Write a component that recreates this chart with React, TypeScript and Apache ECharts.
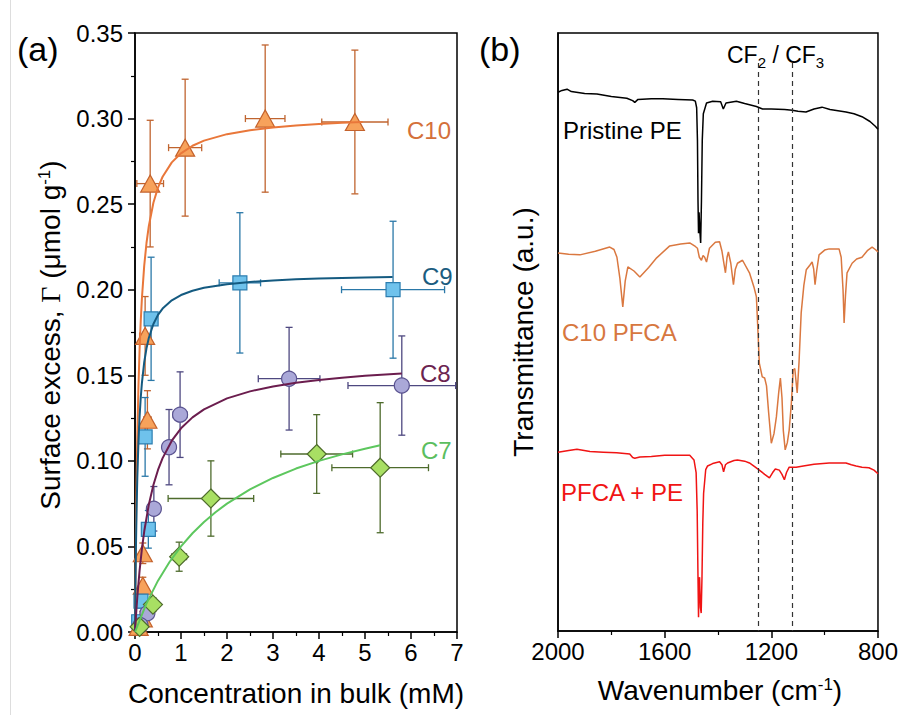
import React, { useEffect, useRef } from 'react';
import * as echarts from 'echarts';

// ---------- Panel (a): adsorption isotherms ----------
const c10Conc = [4.78, 2.83, 1.09, 0.33, 0.22, 0.27, 0.17, 0.17, 0.17, 0.08];
const c10Gamma = [0.298, 0.300, 0.283, 0.262, 0.173, 0.124, 0.046, 0.027, 0.008, 0.003];
const c10ConcErr = [0.72, 0.43, 0.36, 0.29, 0.12, 0.08, 0.05, 0.04, 0.03, 0.02];
const c10GammaErr = [0.042, 0.043, 0.040, 0.037, 0.023, 0.017, 0.006, 0.005, 0.004, 0.003];

const c9Conc = [5.61, 2.28, 0.35, 0.22, 0.29, 0.13, 0.08];
const c9Gamma = [0.200, 0.204, 0.183, 0.114, 0.060, 0.018, 0.006];
const c9ConcErr = [1.12, 0.45, 0.07, 0.06, 0.07, 0.04, 0.03];
const c9GammaErr = [0.040, 0.041, 0.036, 0.023, 0.011, 0.004, 0.003];

const c8Conc = [5.80, 3.35, 0.98, 0.74, 0.41, 0.27, 0.12];
const c8Gamma = [0.144, 0.148, 0.127, 0.108, 0.072, 0.011, 0.004];
const c8ConcErr = [1.17, 0.67, 0.15, 0.10, 0.08, 0.04, 0.03];
const c8GammaErr = [0.029, 0.030, 0.025, 0.022, 0.013, 0.003, 0.002];

const c7Conc = [5.33, 3.95, 1.65, 0.96, 0.39, 0.10];
const c7Gamma = [0.096, 0.104, 0.078, 0.044, 0.016, 0.003];
const c7ConcErr = [1.05, 0.78, 0.93, 0.16, 0.10, 0.04];
const c7GammaErr = [0.038, 0.023, 0.022, 0.0085, 0.004, 0.002];

// fitted isotherm curves
const c10FitConc = [0, 0.01, 0.02, 0.035, 0.05, 0.075, 0.1, 0.125, 0.15, 0.2, 0.25, 0.3, 0.4, 0.5, 0.6, 0.8, 1.0, 1.25, 1.5, 2.0, 2.5, 3.0, 3.5, 4.0, 4.5, 4.95];
const c10FitGamma = [0, 0.0325, 0.0586, 0.0896, 0.1136, 0.1435, 0.1653, 0.1818, 0.1948, 0.2139, 0.2273, 0.2371, 0.2508, 0.2597, 0.2660, 0.2744, 0.2797, 0.2841, 0.2871, 0.2909, 0.2932, 0.2948, 0.2960, 0.2968, 0.2975, 0.2980];
const c9FitConc = [0, 0.01, 0.02, 0.035, 0.05, 0.075, 0.1, 0.125, 0.15, 0.2, 0.25, 0.3, 0.4, 0.5, 0.6, 0.8, 1.0, 1.25, 1.5, 2.0, 2.5, 3.0, 3.5, 4.0, 4.5, 5.0, 5.6];
const c9FitGamma = [0, 0.0274, 0.0485, 0.0723, 0.0900, 0.1112, 0.1260, 0.1370, 0.1454, 0.1575, 0.1658, 0.1718, 0.1800, 0.1853, 0.1890, 0.1938, 0.1969, 0.1994, 0.2011, 0.2032, 0.2045, 0.2054, 0.2061, 0.2066, 0.2069, 0.2072, 0.2075];
const c8FitConc = [0, 0.025, 0.05, 0.1, 0.15, 0.2, 0.3, 0.4, 0.5, 0.6, 0.8, 1.0, 1.25, 1.5, 2.0, 2.5, 3.0, 3.5, 4.0, 4.5, 5.0, 5.8];
const c8FitGamma = [0, 0.0108, 0.0203, 0.0360, 0.0485, 0.0587, 0.0744, 0.0859, 0.0947, 0.1016, 0.1118, 0.1190, 0.1254, 0.1301, 0.1365, 0.1406, 0.1435, 0.1457, 0.1473, 0.1486, 0.1497, 0.1510];
const c7FitConc = [0, 0.25, 0.5, 0.75, 1.0, 1.25, 1.5, 1.75, 2.0, 2.5, 3.0, 3.5, 4.0, 4.5, 5.0, 5.33];
const c7FitGamma = [0, 0.0167, 0.0300, 0.0409, 0.0500, 0.0577, 0.0643, 0.0700, 0.0750, 0.0833, 0.0900, 0.0955, 0.1000, 0.1038, 0.1071, 0.1091];

const concTicks = [0, 1, 2, 3, 4, 5, 6, 7];
const gammaTicks = [0, 0.05, 0.1, 0.15, 0.2, 0.25, 0.3, 0.35];

// ---------- Panel (b): FTIR spectra (wavenumber, transmittance a.u.) ----------
const peWave = [2000, 1985, 1966, 1950, 1900, 1854, 1800, 1742, 1720, 1712, 1700, 1650, 1607, 1550, 1495, 1485, 1480, 1477, 1475, 1473, 1471, 1468, 1465, 1462, 1459, 1455, 1443, 1420, 1390, 1380, 1370, 1331, 1300, 1256, 1233, 1200, 1150, 1122, 1100, 1070, 1040, 1010, 980, 950, 920, 890, 860, 830, 810, 800];
const peTrans = [90.1, 90.4, 90.6, 90.2, 89.9, 89.8, 89.4, 89.1, 88.7, 88.4, 88.9, 89.0, 89.0, 88.9, 88.8, 88.6, 87.5, 82, 72, 66.5, 70, 67, 64.9, 72, 82, 86.5, 88.3, 88.6, 88.5, 87.3, 88.3, 88.6, 88.2, 87.7, 87.3, 87.3, 87.2, 87.1, 86.9, 86.8, 87.3, 87.6, 87.2, 87.0, 86.8, 86.5, 86.0, 85.2, 84.4, 83.9];

const pfcaWave = [2000, 1960, 1918, 1860, 1806, 1790, 1779, 1768, 1757, 1748, 1738, 1715, 1693, 1660, 1630, 1581, 1540, 1506, 1485, 1477, 1470, 1462, 1456, 1450, 1443, 1432, 1410, 1394, 1385, 1378, 1372, 1366, 1361, 1352, 1342, 1335, 1327, 1308, 1282, 1265, 1256, 1250, 1245, 1234, 1225, 1218, 1210, 1200, 1190, 1181, 1172, 1166, 1160, 1155, 1148, 1140, 1133, 1125, 1118, 1112, 1103, 1096, 1088, 1078, 1069, 1055, 1047, 1041, 1036, 1030, 1021, 1000, 983, 946, 938, 931, 927, 922, 916, 897, 880, 860, 840, 822, 810, 800];
const pfcaTrans = [63.2, 63.0, 62.9, 63.5, 64.2, 63.8, 62.5, 59, 54.2, 58.5, 60.9, 60.2, 59.2, 60.8, 62.4, 64.4, 64.7, 64.9, 64.3, 64.0, 62.5, 62.0, 62.8, 62.5, 61.7, 64.0, 65.0, 65.1, 63.5, 61.5, 59.9, 62.5, 63.4, 61.5, 57.9, 60.5, 61.5, 62.0, 59.9, 57.5, 55.9, 50, 44.8, 42.5, 42.3, 41.0, 36.5, 31.4, 33.0, 35.8, 40, 42.3, 39, 33.5, 30.3, 31.5, 33.6, 38, 43.6, 43.9, 39.8, 45, 53.2, 57.8, 60.4, 61.2, 61.7, 60.5, 57.9, 60.2, 62.9, 63.7, 63.9, 63.9, 62.5, 57, 51.5, 56, 59.9, 61.5, 62.2, 62.5, 63.6, 64.2, 63.8, 63.4];

const mixWave = [2000, 1960, 1929, 1880, 1830, 1780, 1731, 1720, 1712, 1693, 1650, 1600, 1550, 1506, 1490, 1482, 1478, 1475, 1473, 1471, 1469, 1466, 1463, 1460, 1457, 1454, 1446, 1439, 1420, 1394, 1385, 1379, 1372, 1364, 1340, 1327, 1300, 1282, 1260, 1245, 1225, 1207, 1195, 1185, 1170, 1160, 1151, 1143, 1133, 1107, 1080, 1040, 983, 950, 920, 900, 882, 860, 834, 815, 800];
const mixTrans = [29.9, 30.2, 30.4, 30.0, 29.9, 29.8, 29.6, 29.0, 28.9, 29.1, 29.2, 29.4, 29.4, 29.4, 28.6, 26.5, 20, 9, 2.3, 8, 9, 4, 3.0, 9, 18, 23, 27, 27.6, 28.0, 28.3, 27.8, 26.6, 27.8, 28.1, 28.5, 28.6, 28.4, 28.1, 27.4, 26.9, 26.2, 25.6, 26.5, 27.1, 26.9, 26.2, 25.3, 26.5, 27.4, 27.4, 27.6, 27.9, 28.1, 28.1, 28.1, 27.8, 27.6, 27.4, 27.3, 26.9, 26.3];

const cfMarkers = [1250, 1120];
const waveTicks = [2000, 1600, 1200, 800];

const SANS = "'Liberation Sans', Arial, Helvetica, sans-serif";
const SERIF = "'Liberation Serif', 'Times New Roman', serif";

const zip = (a: number[], b: number[]) => a.map((v, i) => [v, b[i]]);
const errRows = (x: number[], y: number[], xe: number[], ye: number[]) =>
  x.map((v, i) => [v, y[i], Math.max(0, v - xe[i]), v + xe[i], Math.max(0, y[i] - ye[i]), y[i] + ye[i]]);

const makeErrRender = (color: string) => (params: any, api: any) => {
  const x = api.value(0), y = api.value(1);
  const xl = api.value(2), xh = api.value(3), yl = api.value(4), yh = api.value(5);
  const c = api.coord([x, y]);
  const pxl = api.coord([xl, y]);
  const pxh = api.coord([xh, y]);
  const pyl = api.coord([x, yl]);
  const pyh = api.coord([x, yh]);
  const cap = 3.5;
  const style = { stroke: color, lineWidth: 1.3, fill: 'none' };
  const children: any[] = [];
  children.push({ type: 'line', shape: { x1: c[0], y1: pyl[1], x2: c[0], y2: pyh[1] }, style });
  children.push({ type: 'line', shape: { x1: c[0] - cap, y1: pyl[1], x2: c[0] + cap, y2: pyl[1] }, style });
  children.push({ type: 'line', shape: { x1: c[0] - cap, y1: pyh[1], x2: c[0] + cap, y2: pyh[1] }, style });
  children.push({ type: 'line', shape: { x1: pxl[0], y1: c[1], x2: pxh[0], y2: c[1] }, style });
  children.push({ type: 'line', shape: { x1: pxl[0], y1: c[1] - cap, x2: pxl[0], y2: c[1] + cap }, style });
  children.push({ type: 'line', shape: { x1: pxh[0], y1: c[1] - cap, x2: pxh[0], y2: c[1] + cap }, style });
  return { type: 'group', children };
};

const groups = [
  { name: 'C10', x: c10Conc, y: c10Gamma, xe: c10ConcErr, ye: c10GammaErr, fx: c10FitConc, fy: c10FitGamma,
    symbol: 'triangle', size: [19, 17], fill: '#F7A25B', border: '#C4622C', err: '#C0642F', fit: '#E9773A' },
  { name: 'C9', x: c9Conc, y: c9Gamma, xe: c9ConcErr, ye: c9GammaErr, fx: c9FitConc, fy: c9FitGamma,
    symbol: 'rect', size: [14, 14], fill: '#6FC2EC', border: '#2C7EB0', err: '#2A78A8', fit: '#145A80' },
  { name: 'C8', x: c8Conc, y: c8Gamma, xe: c8ConcErr, ye: c8GammaErr, fx: c8FitConc, fy: c8FitGamma,
    symbol: 'circle', size: [15, 15], fill: '#AAA8D8', border: '#5A5390', err: '#4E4880', fit: '#6B1D4E' },
  { name: 'C7', x: c7Conc, y: c7Gamma, xe: c7ConcErr, ye: c7GammaErr, fx: c7FitConc, fy: c7FitGamma,
    symbol: 'diamond', size: [19, 19], fill: '#A8DF63', border: '#4E6B2C', err: '#4E6B2C', fit: '#5DC75E' },
];

export default function App() {
  const ref = useRef<HTMLDivElement>(null);
  useEffect(() => {
    if (!ref.current) return;
    const chart = echarts.init(ref.current, undefined, { renderer: 'svg' });

    const axisLine = { show: true, lineStyle: { color: '#000', width: 1.5 } };
    const tickStyle = { color: '#000', width: 1.5 };

    const series: any[] = [];
    groups.forEach((g) => {
      series.push({
        type: 'custom', name: g.name + ' err', xAxisIndex: 0, yAxisIndex: 0, z: 2, silent: true,
        renderItem: makeErrRender(g.err), encode: { x: [0, 2, 3], y: [1, 4, 5] },
        data: errRows(g.x, g.y, g.xe, g.ye),
      });
    });
    groups.forEach((g) => {
      series.push({
        type: 'scatter', name: g.name, xAxisIndex: 0, yAxisIndex: 0, z: 3,
        symbol: g.symbol, symbolSize: g.size,
        itemStyle: { color: g.fill, borderColor: g.border, borderWidth: 1.2, opacity: 1 },
        data: zip(g.x, g.y),
      });
    });
    groups.forEach((g) => {
      series.push({
        type: 'line', name: g.name + ' fit', xAxisIndex: 0, yAxisIndex: 0, z: 4,
        showSymbol: false, smooth: false,
        lineStyle: { color: g.fit, width: 2 },
        data: zip(g.fx, g.fy),
      });
    });

    const specLine = (name: string, w: number[], t: number[], color: string, extra: any = {}) => ({
      type: 'line', name, xAxisIndex: 1, yAxisIndex: 1, showSymbol: false, z: 3,
      lineStyle: { color, width: 1.5 }, data: zip(w, t), ...extra,
    });

    series.push(specLine('Pristine PE', peWave, peTrans, '#000000', {
      markLine: {
        silent: true, symbol: 'none', label: { show: false },
        lineStyle: { color: '#333', width: 1.2, type: [5, 4] },
        data: cfMarkers.map((m) => [{ coord: [m, 95] }, { coord: [m, 0] }]),
      },
    }));
    series.push(specLine('C10 PFCA', pfcaWave, pfcaTrans, '#DA7840'));
    series.push(specLine('PFCA + PE', mixWave, mixTrans, '#F01414'));

    const label = (text: string, x: number, y: number, color: string, size = 24) => ({
      type: 'text', x, y, silent: true,
      style: { text, fill: color, font: `${size}px ${SANS}`, fontSize: size, fontFamily: SANS,
        align: 'left', verticalAlign: 'middle', textAlign: 'left', textVerticalAlign: 'middle' },
    });

    chart.setOption({
      animation: false,
      backgroundColor: '#ffffff',
      grid: [
        { left: 135, top: 33, width: 322, height: 599, show: true, borderColor: '#000', borderWidth: 1.5, backgroundColor: 'transparent' },
        { left: 558, top: 33, width: 321, height: 598, show: true, borderColor: '#000', borderWidth: 1.5, backgroundColor: 'transparent' },
      ],
      xAxis: [
        {
          type: 'value', gridIndex: 0, min: concTicks[0], max: concTicks[concTicks.length - 1], interval: 1,
          axisLine, splitLine: { show: false },
          axisTick: { show: true, length: 7, lineStyle: tickStyle },
          minorTick: { show: true, splitNumber: 2, length: 4, lineStyle: { color: '#000', width: 1.2 } },
          axisLabel: { color: '#000', fontSize: 24, fontFamily: SANS, margin: 8 },
        },
        {
          type: 'value', gridIndex: 1, min: waveTicks[3], max: waveTicks[0], interval: 400, inverse: true,
          axisLine, splitLine: { show: false },
          axisTick: { show: true, length: 7, lineStyle: tickStyle },
          minorTick: { show: true, splitNumber: 2, length: 4, lineStyle: { color: '#000', width: 1.2 } },
          axisLabel: { color: '#000', fontSize: 24, fontFamily: SANS, margin: 8, formatter: (v: number) => String(v) },
        },
      ],
      yAxis: [
        {
          type: 'value', gridIndex: 0, min: gammaTicks[0], max: gammaTicks[gammaTicks.length - 1], interval: 0.05,
          axisLine, splitLine: { show: false },
          axisTick: { show: true, length: 7, lineStyle: tickStyle },
          minorTick: { show: true, splitNumber: 2, length: 4, lineStyle: { color: '#000', width: 1.2 } },
          axisLabel: { color: '#000', fontSize: 24, fontFamily: SANS, margin: 12, formatter: (v: number) => v.toFixed(2) },
        },
        {
          type: 'value', gridIndex: 1, min: 0, max: 100,
          axisLine, splitLine: { show: false }, axisTick: { show: false }, axisLabel: { show: false },
        },
      ],
      series,
      graphic: [
        { type: 'line', silent: true, shape: { x1: 10.5, y1: 0, x2: 10.5, y2: 715 }, style: { stroke: '#dddddd', lineWidth: 1 } },
        label('(a)', 17, 49, '#000', 34),
        label('(b)', 479, 49, '#000', 34),
        label('C10', 407, 130, '#D4703A'),
        label('C9', 422, 276, '#1B5C80'),
        label('C8', 420, 373, '#6B2350'),
        label('C7', 421, 450, '#5BBE5F'),
        label('Pristine PE', 563, 130, '#000'),
        label('C10 PFCA', 562, 332, '#D7773F'),
        label('PFCA + PE', 561, 492, '#F01414'),
        {
          type: 'text', x: 727, y: 55, silent: true,
          style: {
            text: '{n|CF}{s|2}{n| / CF}{s|3}', fill: '#000', align: 'left', verticalAlign: 'middle',
            textAlign: 'left', textVerticalAlign: 'middle',
            rich: {
              n: { fontSize: 23, fontFamily: SANS, fill: '#000', lineHeight: 30 },
              s: { fontSize: 15, fontFamily: SANS, fill: '#000', verticalAlign: 'bottom', lineHeight: 30 },
            },
          },
        },
        {
          type: 'text', x: 296, y: 693, silent: true,
          style: { text: 'Concentration in bulk (mM)', fill: '#000', font: `28px ${SANS}`, fontSize: 28, fontFamily: SANS,
            align: 'center', verticalAlign: 'middle', textAlign: 'center', textVerticalAlign: 'middle' },
        },
        {
          type: 'text', x: 720, y: 690, silent: true,
          style: {
            text: '{n|Wavenumber (cm}{s|-1}{n|)}', fill: '#000', align: 'center', verticalAlign: 'middle',
            textAlign: 'center', textVerticalAlign: 'middle',
            rich: {
              n: { fontSize: 28, fontFamily: SANS, fill: '#000' },
              s: { fontSize: 17, fontFamily: SANS, fill: '#000', verticalAlign: 'top' },
            },
          },
        },
        {
          type: 'text', x: 50, y: 335, rotation: Math.PI / 2, silent: true,
          style: {
            text: '{n|Surface excess, }{g|Γ}{n| (μmol g}{s|-1}{n|)}', fill: '#000', align: 'center', verticalAlign: 'middle',
            textAlign: 'center', textVerticalAlign: 'middle',
            rich: {
              n: { fontSize: 28, fontFamily: SANS, fill: '#000' },
              g: { fontSize: 28, fontFamily: SERIF, fill: '#000' },
              s: { fontSize: 17, fontFamily: SANS, fill: '#000', verticalAlign: 'top' },
            },
          },
        },
        {
          type: 'text', x: 523, y: 332, rotation: Math.PI / 2, silent: true,
          style: { text: 'Transmittance (a.u.)', fill: '#000', font: `28px ${SANS}`, fontSize: 28, fontFamily: SANS,
            align: 'center', verticalAlign: 'middle', textAlign: 'center', textVerticalAlign: 'middle' },
        },
      ],
    });
    return () => chart.dispose();
  }, []);

  return <div ref={ref} style={{ position: 'absolute', left: 0, top: 0, width: 901, height: 715, background: '#fff' }} />;
}
